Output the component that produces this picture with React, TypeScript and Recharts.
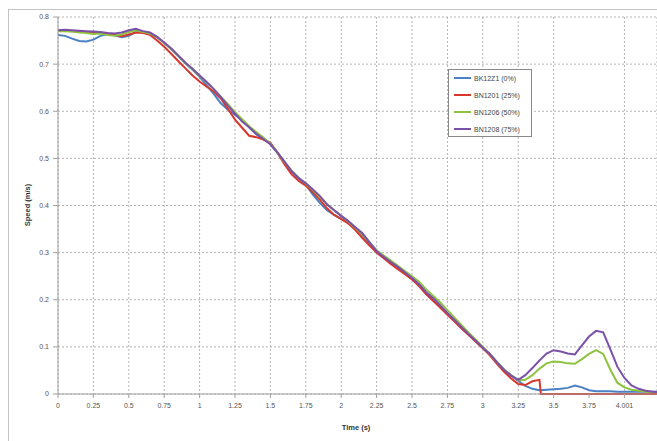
import React from 'react';
import { LineChart, Line, XAxis, YAxis, CartesianGrid, Legend, Label } from 'recharts';

// time in seconds (shared by every run)
const timeS = [
  0, 0.05, 0.1, 0.15, 0.2, 0.25, 0.3, 0.35, 0.4, 0.45,
  0.5, 0.55, 0.6, 0.65, 0.7, 0.75, 0.8, 0.85, 0.9, 0.95,
  1.0, 1.05, 1.1, 1.15, 1.2, 1.25, 1.3, 1.35, 1.4, 1.45,
  1.5, 1.55, 1.6, 1.65, 1.7, 1.75, 1.8, 1.85, 1.9, 1.95,
  2.0, 2.05, 2.1, 2.15, 2.2, 2.25, 2.3, 2.35, 2.4, 2.45,
  2.5, 2.55, 2.6, 2.65, 2.7, 2.75, 2.8, 2.85, 2.9, 2.95,
  3.0, 3.05, 3.1, 3.15, 3.2, 3.25, 3.3, 3.35, 3.4, 3.41,
  3.45, 3.5, 3.55, 3.6, 3.65, 3.7, 3.75, 3.8, 3.85, 3.9,
  3.95, 4.0, 4.05, 4.1, 4.15, 4.2, 4.23,
];

// speed (m/s)
const bk12z1 = [
  0.762, 0.760, 0.754, 0.749, 0.748, 0.752, 0.760, 0.764, 0.761, 0.757,
  0.760, 0.768, 0.768, 0.765, 0.757, 0.745, 0.732, 0.717, 0.702, 0.688,
  0.673, 0.655, 0.637, 0.617, 0.603, 0.592, 0.582, 0.566, 0.551, 0.541,
  0.530, 0.512, 0.491, 0.472, 0.457, 0.444, 0.423, 0.405, 0.390, 0.380,
  0.372, 0.363, 0.352, 0.337, 0.320, 0.302, 0.290, 0.278, 0.267, 0.256,
  0.245, 0.229, 0.212, 0.198, 0.184, 0.170, 0.156, 0.140, 0.126, 0.112,
  0.098, 0.084, 0.068, 0.052, 0.039, 0.028, 0.017, 0.011, 0.008, 0.008,
  0.009, 0.010, 0.011, 0.013, 0.018, 0.014, 0.008, 0.006, 0.006, 0.006,
  0.005, 0.005, 0.005, 0.005, 0.005, 0.005, 0.005,
];

const bn1201 = [
  0.772, 0.771, 0.770, 0.769, 0.768, 0.767, 0.766, 0.765, 0.762, 0.759,
  0.763, 0.767, 0.766, 0.762, 0.750, 0.737, 0.722, 0.706, 0.691, 0.676,
  0.663, 0.652, 0.642, 0.627, 0.605, 0.582, 0.565, 0.548, 0.545, 0.540,
  0.533, 0.512, 0.487, 0.466, 0.452, 0.442, 0.428, 0.412, 0.394, 0.380,
  0.371, 0.362, 0.348, 0.331, 0.315, 0.300, 0.288, 0.276, 0.265, 0.254,
  0.243, 0.229, 0.212, 0.198, 0.183, 0.168, 0.154, 0.139, 0.125, 0.111,
  0.097, 0.082, 0.064, 0.047, 0.033, 0.021, 0.019, 0.027, 0.030, 0,
  0, 0, 0, 0, 0, 0, 0, 0, 0, 0,
  0, 0, 0, 0, 0, 0, 0,
];

const bn1206 = [
  0.770, 0.770, 0.769, 0.767, 0.766, 0.764, 0.765, 0.762, 0.760, 0.763,
  0.768, 0.772, 0.768, 0.765, 0.758, 0.745, 0.732, 0.717, 0.702, 0.689,
  0.675, 0.661, 0.647, 0.631, 0.615, 0.598, 0.583, 0.568, 0.556, 0.544,
  0.531, 0.512, 0.492, 0.474, 0.459, 0.446, 0.433, 0.418, 0.403, 0.390,
  0.378, 0.366, 0.353, 0.339, 0.322, 0.305, 0.294, 0.283, 0.272, 0.261,
  0.250, 0.238, 0.222, 0.208, 0.194, 0.178, 0.162, 0.146, 0.130, 0.115,
  0.100, 0.085, 0.068, 0.052, 0.040, 0.029, 0.030, 0.040, 0.054, 0.056,
  0.065, 0.069, 0.068, 0.065, 0.064, 0.074, 0.085, 0.093, 0.085, 0.052,
  0.024, 0.014, 0.009, 0.007, 0.005, 0.004, 0.004,
];

const bn1208 = [
  0.772, 0.773, 0.772, 0.771, 0.770, 0.769, 0.768, 0.766, 0.765, 0.767,
  0.772, 0.775, 0.770, 0.767, 0.758, 0.746, 0.733, 0.718, 0.703, 0.690,
  0.676, 0.662, 0.647, 0.630, 0.612, 0.595, 0.578, 0.566, 0.552, 0.541,
  0.530, 0.512, 0.493, 0.473, 0.458, 0.447, 0.434, 0.420, 0.402, 0.390,
  0.378, 0.367, 0.354, 0.341, 0.322, 0.303, 0.291, 0.280, 0.270, 0.258,
  0.246, 0.233, 0.216, 0.203, 0.188, 0.172, 0.157, 0.142, 0.127, 0.113,
  0.098, 0.085, 0.067, 0.051, 0.039, 0.030, 0.040, 0.055, 0.071, 0.074,
  0.086, 0.093, 0.090, 0.086, 0.084, 0.103, 0.122, 0.134, 0.131, 0.095,
  0.058, 0.034, 0.018, 0.011, 0.007, 0.005, 0.004,
];

const seriesKeys = ['bk12z1', 'bn1201', 'bn1206', 'bn1208'];
const seriesNames = ['BK12Z1 (0%)', 'BN1201 (25%)', 'BN1206 (50%)', 'BN1208 (75%)'];
const seriesColors = ['#4a80c4', '#d8372c', '#8cc43f', '#7b50a8'];

const xTicks = [0, 0.25, 0.5, 0.75, 1, 1.25, 1.5, 1.75, 2, 2.25, 2.5, 2.75, 3, 3.25, 3.5, 3.75, 4];
const xTickLabels = ['0', '0.25', '0.5', '0.75', '1', '1.25', '1.5', '1.75', '2', '2.25', '2.5', '2.75', '3', '3.25', '3.5', '3.75', '4.001'];
const yTicks = [0, 0.1, 0.2, 0.3, 0.4, 0.5, 0.6, 0.7, 0.8];

const data = timeS.map((t, i) => ({
  t,
  bk12z1: bk12z1[i],
  bn1201: bn1201[i],
  bn1206: bn1206[i],
  bn1208: bn1208[i],
}));

const FONT = '"Liberation Sans", Arial, sans-serif';
const tickStyle = { fontSize: 7, fill: '#555', fontFamily: FONT };

const LegendBox = () => (
  <div
    style={{
      width: 82,
      height: 66,
      border: '1px solid #8a8a8a',
      background: '#fff',
      position: 'relative',
      fontFamily: FONT,
      fontSize: 7,
      color: '#444',
    }}
  >
    {seriesNames.map((name, i) => (
      <div key={name} style={{ position: 'absolute', left: 5, top: 4 + i * 17, height: 8, display: 'flex', alignItems: 'center' }}>
        <div style={{ width: 17, height: 2, background: seriesColors[i], marginRight: 3 }} />
        <span style={{ whiteSpace: 'nowrap' }}>{name}</span>
      </div>
    ))}
  </div>
);

export default function App() {
  return (
    <div style={{ position: 'absolute', left: 0, top: 0, width: 657, height: 441, overflow: 'hidden', background: '#fff' }}>
      <div style={{ position: 'absolute', left: 8, top: 9, width: 700, height: 500, border: '1px solid #c4c4c4' }} />
      <div style={{ position: 'absolute', left: 0, top: 0 }}>
        <LineChart width={657} height={441} data={data} margin={{ top: 17, right: 0, bottom: 0, left: 0 }}>
          <CartesianGrid stroke="#b4b4b4" strokeDasharray="2 2" />
          <XAxis
            dataKey="t"
            type="number"
            domain={[0, 4.23]}
            ticks={xTicks}
            tickFormatter={(v: number) => xTickLabels[xTicks.indexOf(v)] ?? String(v)}
            tick={tickStyle}
            tickSize={4}
            tickMargin={5}
            stroke="#a0a0a0"
            height={47}
            allowDataOverflow
          >
            <Label
              content={() => (
                <text x={356} y={430} textAnchor="middle" fontFamily={FONT} fontSize={7.5} fontWeight="bold" fill="#333">
                  Time (s)
                </text>
              )}
            />
          </XAxis>
          <YAxis
            type="number"
            domain={[0, 0.8]}
            ticks={yTicks}
            tick={tickStyle}
            tickSize={5}
            tickMargin={4}
            stroke="#a0a0a0"
            width={58}
          >
            <Label
              content={() => (
                <text
                  x={30}
                  y={205}
                  transform="rotate(-90 30 205)"
                  textAnchor="middle"
                  fontFamily={FONT}
                  fontSize={7.5}
                  fontWeight="bold"
                  fill="#333"
                >
                  Speed (m/s)
                </text>
              )}
            />
          </YAxis>
          <Legend
            layout="vertical"
            align="center"
            verticalAlign="middle"
            content={() => <LegendBox />}
            wrapperStyle={{ left: 448, top: 69, width: 'auto', height: 'auto' }}
          />
          {seriesKeys.map((k, i) => (
            <Line
              key={k}
              type="linear"
              dataKey={k}
              name={seriesNames[i]}
              stroke={seriesColors[i]}
              strokeWidth={2}
              dot={false}
              isAnimationActive={false}
            />
          ))}
        </LineChart>
      </div>
    </div>
  );
}
